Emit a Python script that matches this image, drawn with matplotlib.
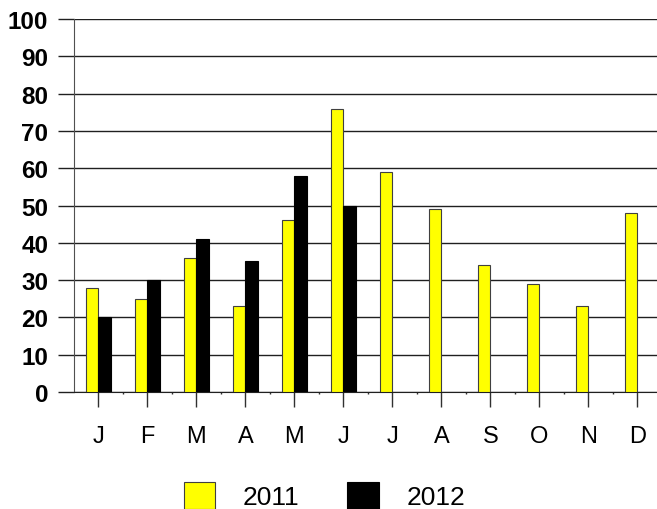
import numpy as np
import matplotlib
matplotlib.use("Agg")
import matplotlib.pyplot as plt

plt.rcParams['font.family'] = ['Liberation Sans', 'DejaVu Sans']

# Données
months = ["J", "F", "M", "A", "M", "J", "J", "A", "S", "O", "N", "D"]
sales_2011 = [28, 25, 36, 23, 46, 76, 59, 49, 34, 29, 23, 48]
sales_2012 = [20, 30, 41, 35, 58, 50]
series_labels = ["2011", "2012"]
y_ticks = list(range(0, 101, 10))

W, H = 657, 510
fig = plt.figure(figsize=(W / 100, H / 100), dpi=100)
# axe qui déborde à droite, comme sur l'original
ax = fig.add_axes([74 / W, 117 / H, 1 - 74 / W, 373 / H])

x = np.arange(len(months))
bw = 0.25
ax.bar(x[:len(sales_2011)] - bw / 2, sales_2011, bw, color="#ffff00",
       edgecolor="#404040", linewidth=0.8, label=series_labels[0], zorder=3)
ax.bar(x[:len(sales_2012)] + bw / 2, sales_2012, bw, color="black",
       edgecolor="black", linewidth=0.8, label=series_labels[1], zorder=3)

ax.set_xlim(-0.5, 11.4)
ax.set_ylim(0, 100)
ax.set_yticks(y_ticks)
ax.set_yticklabels([str(v) for v in y_ticks], fontsize=17.5, fontweight="bold")
ax.set_xticks(x)
ax.set_xticklabels(months, fontsize=17)
ax.set_xticks(x[:-1] + 0.5, minor=True)

ax.grid(axis="y", color="#202020", linewidth=1.0, zorder=0)
ax.tick_params(axis="y", length=11.5, width=1.0, color="#202020", pad=7)
ax.tick_params(axis="x", which="major", length=11, width=1.0, color="#303030", pad=13)
ax.tick_params(axis="x", which="minor", length=1.5, width=1.0, color="#303030")

for side in ["top", "right"]:
    ax.spines[side].set_visible(False)
ax.spines["left"].set_color("#505050")
ax.spines["bottom"].set_color("#202020")

fig.legend(loc="center", bbox_to_anchor=(0.494, 0.026), ncol=2, frameon=False,
           fontsize=19, handlelength=1.2, handleheight=1.2, handletextpad=1.05,
           columnspacing=1.8, borderpad=0)

fig.savefig("out.png", dpi=100)
